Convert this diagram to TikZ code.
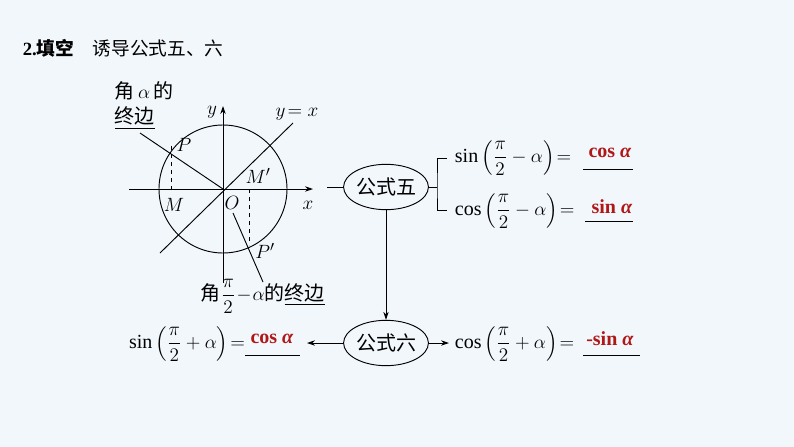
\documentclass[tikz,border=0pt]{standalone}
\usepackage{fontspec}
\usepackage{amsmath}
\setmainfont{Liberation Serif}
\newfontfamily\cjk{Noto Sans CJK SC}
\usetikzlibrary{shapes.geometric,arrows.meta}
\definecolor{bg}{HTML}{F2F7FC}
\definecolor{ans}{HTML}{B01818}
\tikzset{
 lbl/.style={font=\fontsize{15}{17}\selectfont},
 ell/.style={draw,ellipse,minimum width=60pt,minimum height=34pt,inner sep=0pt,font=\cjk\fontsize{15}{17}\selectfont},
 answ/.style={font=\bfseries\fontsize{15}{17}\selectfont,text=ans},
 arr/.style={-{Stealth[length=6pt,width=4pt]}},
}
\begin{document}
\begin{tikzpicture}[x=0.75pt,y=-0.75pt,line width=0.7pt]
\fill[bg] (0,0) rectangle (794,447);
\useasboundingbox (0,0) rectangle (794,447);
\node[anchor=west,font=\fontsize{14}{16}\selectfont] (title) at (18,48) {\textbf{2.{\cjk 填空}}\quad{\cjk 诱导公式五、六}};
% diagram
\coordinate (O) at (223,189);
\draw (O) circle (64);
\draw[arr] (129,189) -- (313,189) coordinate (xe);
\draw[arr] (223,283) -- (223,106) coordinate (ye);
\draw (160,253) -- (293,123);
\draw (140,133) -- (O);
\draw (233,213) -- (263,282);
\coordinate (P) at (171,146);
\coordinate (Pp) at (249,245);
\draw[dashed] (P) -- (171,189);
\draw[dashed] (249,189) -- (Pp);
\node[lbl] (lP) at (184,145) {$P$};
\node[lbl] (lMp) at (258,176) {$M'$};
\node[lbl] (lM) at (174,205) {$M$};
\node[lbl] (lO) at (232,203) {$O$};
\node[lbl] (lx) at (308,205) {$x$};
\node[lbl] (ly) at (212,112) {$y$};
\node[lbl] (lyx) at (297,114) {$y\!=x$};
\node[lbl] (lPp) at (265,251) {$P'$};
\node[lbl,anchor=west] (la1) at (110,91) {{\cjk 角}\,$\alpha$\,{\cjk 的}};
\node[lbl,anchor=west] (la2) at (110,118) {\underline{\cjk 终边}};
\node[lbl,anchor=west] (la3) at (196,296) {{\cjk 角}$\dfrac{\pi}{2}\!-\!\alpha${\cjk 的\underline{终边}}};
% flow
\node[ell] (f5) at (386,187) {公式五};
\node[ell] (f6) at (386,343) {公式六};
\draw (327,187) -- (f5.west);
\draw (f5.east) -- (437,187) coordinate (b);
\draw (447,158) -| (b) |- (447,210);
\node[lbl,anchor=west] (s1) at (450,158) {$\sin\left(\dfrac{\pi}{2}-\alpha\right)\!=$};
\node[lbl,anchor=west] (s2) at (450,211) {$\cos\left(\dfrac{\pi}{2}-\alpha\right)\!=$};
\node[answ] (a1) at (610,153) {cos \textit{α}};
\node[answ] (a2) at (612,207) {sin \textit{α}};
\draw (583,169) -- (633,169);
\draw (585,221) -- (633,221);
\draw[arr] (f5.south) -- (f6.north);
\draw[arr] (f6.west) -- (307,343) coordinate (le);
\draw[arr] (f6.east) -- (449,343) coordinate (re);
\node[lbl,anchor=east] (s3) at (250,344) {$\sin\left(\dfrac{\pi}{2}+\alpha\right)\!=$};
\node[lbl,anchor=west] (s4) at (450,344) {$\cos\left(\dfrac{\pi}{2}+\alpha\right)\!=$};
\node[answ] (a3) at (272,339) {cos \textit{α}};
\node[answ] (a4) at (610,339) {-sin \textit{α}};
\draw (245,355) -- (300,355);
\draw (583,355) -- (640,355);
\end{tikzpicture}
\end{document}
